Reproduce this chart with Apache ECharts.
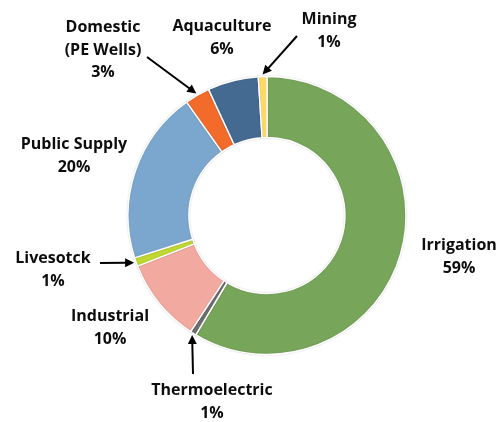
<!DOCTYPE html>
<html>
<head>
<meta charset="utf-8">
<script src="https://cdn.jsdelivr.net/npm/echarts@6/dist/echarts.min.js"></script>
<style>
html,body{margin:0;padding:0;background:#fff;}
#chart{width:496px;height:422px;}
</style>
</head>
<body>
<div id="chart"></div>
<script>
// ---- data ----
var categories = ['Irrigation', 'Thermoelectric', 'Industrial', 'Livesotck', 'Public Supply', 'Domestic\n(PE Wells)', 'Aquaculture', 'Mining'];
var values = [58.5, 0.7, 9.8, 1.0, 20.1, 2.9, 5.9, 1.0];
var colors = ['#77A55A', '#6E6E6E', '#F2A9A0', '#BFD730', '#7BA7CF', '#F26B2A', '#456A92', '#FFD966'];

// ---- layout (label anchor centres and arrow tails) ----
var labelPos = [[459, 257], [212, 402], [110, 328], [53, 270], [74, 156], [103, 50], [222, 38], [329, 31]];
var arrowTail = {1: [193, 374], 3: [100, 263], 5: [147, 57], 7: [297, 36]};

var CX = 267, CY = 215.5, R_IN = 78, R_OUT = 139;

var chart = echarts.init(document.getElementById('chart'));

var total = values.reduce(function (a, b) { return a + b; }, 0);
var graphics = [];
var cum = 0;
values.forEach(function (v, i) {
  var mid = cum + v / 2;
  cum += v;
  if (!arrowTail[i]) return;
  var th = 2 * Math.PI * mid / total;
  var r = R_OUT + 2;
  var tip = [CX + r * Math.sin(th), CY - r * Math.cos(th)];
  var tail = arrowTail[i];
  var dx = tip[0] - tail[0], dy = tip[1] - tail[1];
  var len = Math.sqrt(dx * dx + dy * dy);
  var ux = dx / len, uy = dy / len;
  var headL = 9, headW = 4.5;
  var base = [tip[0] - ux * headL, tip[1] - uy * headL];
  graphics.push({
    type: 'line', silent: true,
    shape: {x1: tail[0], y1: tail[1], x2: base[0] + ux, y2: base[1] + uy},
    style: {stroke: '#000', lineWidth: 2}
  });
  graphics.push({
    type: 'polygon', silent: true,
    shape: {points: [tip, [base[0] - uy * headW, base[1] + ux * headW], [base[0] + uy * headW, base[1] - ux * headW]]},
    style: {fill: '#000'}
  });
});

chart.setOption({
  animation: false,
  backgroundColor: '#fff',
  graphic: graphics,
  series: [{
    type: 'pie',
    center: [CX, CY],
    radius: [R_IN, R_OUT],
    startAngle: 90,
    clockwise: true,
    avoidLabelOverlap: false,
    data: categories.map(function (c, i) {
      return {name: c, value: values[i], itemStyle: {color: colors[i]}};
    }),
    itemStyle: {
      borderColor: '#fff',
      borderWidth: 1.5,
      shadowBlur: 1.5,
      shadowColor: 'rgba(0,0,0,0.18)'
    },
    label: {
      show: true,
      position: 'outside',
      color: '#0d0d0d',
      fontFamily: 'Open Sans',
      fontWeight: 'bold',
      fontSize: 16,
      lineHeight: 22.5,
      align: 'center',
      formatter: function (p) { return p.name + '\n' + Math.round(p.value) + '%'; }
    },
    labelLine: {show: false},
    labelLayout: function (p) {
      var pos = labelPos[p.dataIndex];
      return {x: pos[0], y: pos[1], align: 'center', verticalAlign: 'middle'};
    },
    emphasis: {disabled: true}
  }]
});
</script>
</body>
</html>
